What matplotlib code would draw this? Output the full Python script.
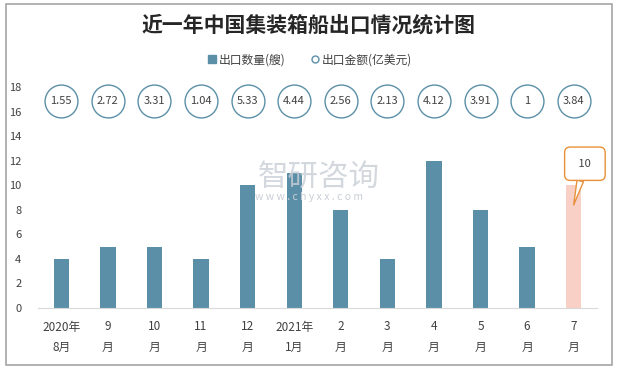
import matplotlib
matplotlib.use("Agg")
import matplotlib.pyplot as plt
from matplotlib.lines import Line2D
from matplotlib.patches import Rectangle

plt.rcParams['font.family'] = ['Noto Sans CJK SC', 'DejaVu Sans']

# === DATA ===
months = ["2020年\n8月", "9\n月", "10\n月", "11\n月", "12\n月", "2021年\n1月",
          "2\n月", "3\n月", "4\n月", "5\n月", "6\n月", "7\n月"]
ships = [4, 5, 5, 4, 10, 11, 8, 4, 12, 8, 5, 10]
amount = ["1.55", "2.72", "3.31", "1.04", "5.33", "4.44",
          "2.56", "2.13", "4.12", "3.91", "1", "3.84"]
amount_row = 16.85  # where the bubbles sit on the y scale

BAR = "#5B8FA8"
LAST = "#F8D0C6"

fig = plt.figure(figsize=(6.18, 3.69), dpi=100)
fig.patches.append(Rectangle((6 / 618, 1 - 365 / 369), 606 / 618, 361 / 369,
                             transform=fig.transFigure, fill=False,
                             edgecolor="#A6A6A6", linewidth=1.2))

ax = fig.add_axes([38 / 618, 1 - 308 / 369, 559 / 618, 221 / 369])
x = list(range(len(months)))
colors = [BAR] * (len(ships) - 1) + [LAST]
ax.bar(x, ships, width=0.33, color=colors, zorder=2)

ax.scatter(x, [amount_row] * len(x), s=560, facecolor="white",
           edgecolor=BAR, linewidth=1.0, zorder=3, clip_on=False)
for xi, a in zip(x, amount):
    ax.text(xi, amount_row, a, ha="center", va="center", fontsize=8,
            color="#404040", zorder=4)

ax.set_xlim(-0.5, len(months) - 0.5)
ax.set_ylim(0, 18)
ax.set_yticks(range(0, 19, 2))
ax.set_xticks(x)
ax.set_xticklabels(months, fontsize=8.5, color="#404040", linespacing=1.75)
ax.tick_params(axis="y", labelsize=8, colors="#404040", length=0, pad=12)
ax.tick_params(axis="x", length=0, pad=9)
for s in ["top", "right", "left"]:
    ax.spines[s].set_visible(False)
ax.spines["bottom"].set_color("#D9D9D9")

# callout on the last bar
ax.annotate(" 10 ", xy=(x[-1], 8.4), xytext=(x[-1] + 0.24, 11.75),
            ha="center", va="center", fontsize=8, color="#404040",
            bbox=dict(boxstyle="round,pad=1.05,rounding_size=0.5",
                      fc="white", ec="#E8913A", lw=1),
            arrowprops=dict(arrowstyle="wedge,tail_width=0.6", fc="white",
                            ec="#E8913A", lw=1, shrinkA=0, shrinkB=0),
            zorder=5)

# watermark
fig.text(0.515, 0.518, "智研咨询", fontsize=22, color="#C9CED6",
         ha="center", va="center", alpha=0.8)
fig.text(0.5, 0.466, "w w w . c h y x x . c o m", fontsize=7.5,
         color="#C9CED6", ha="center", va="center")

fig.text(0.5, 0.932, "近一年中国集装箱船出口情况统计图", fontsize=15,
         fontweight="bold", color="#262626", ha="center", va="center")

handles = [Line2D([], [], marker="s", linestyle="none", markersize=6,
                  color=BAR),
           Line2D([], [], marker="o", linestyle="none", markersize=5,
                  markerfacecolor="white", markeredgecolor=BAR)]
fig.legend(handles, ["出口数量(艘)", "出口金额(亿美元)"], loc="center",
           bbox_to_anchor=(0.5, 0.838), ncol=2, frameon=False, fontsize=8.5,
           handletextpad=0.1, columnspacing=2, handlelength=1,
           labelcolor="#404040")

fig.savefig("out.png", dpi=100)
